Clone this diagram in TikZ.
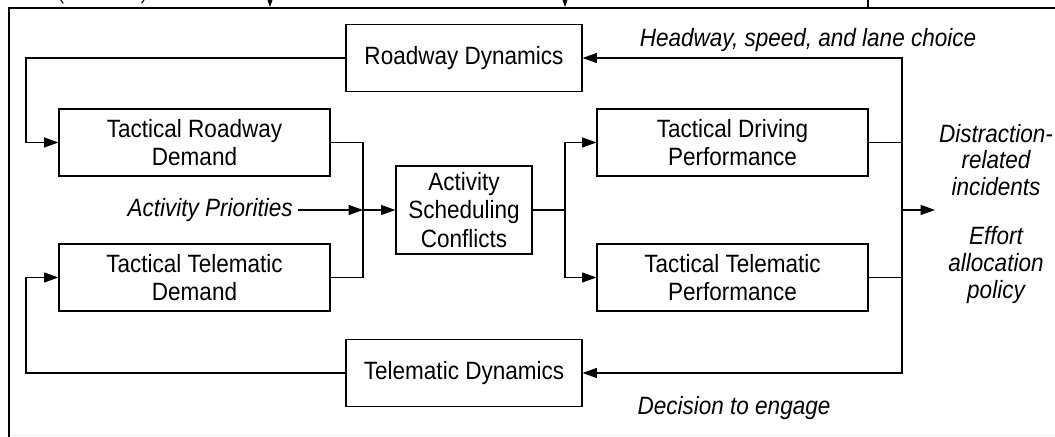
\documentclass[tikz,border=0pt]{standalone}
\usepackage{fontspec}
\setmainfont{Liberation Sans}[FakeStretch=0.9]
\usetikzlibrary{arrows.meta, positioning}

\begin{document}
\begin{tikzpicture} [node distance = 2cm, on grid, font=\fontsize{17.8}{20.5}\selectfont, line width=0.8pt,
	block/.style = {draw, align=center, inner sep=0pt, minimum width=6.775cm, minimum height=1.675cm},
	dyn/.style = {block, minimum width=5.9cm},
	note/.style = {align=center, font=\fontsize{17.8}{19}\selectfont\itshape},
	>={Triangle[length=3.6mm, width=2.5mm]}]
	% Help grid
	%	\draw [help lines] (0,0) grid (27,11);
	\useasboundingbox (0,0) rectangle (26.375,10.925);
	% Outer frame: only top and left side
	\draw [line width=1.5pt] (26.375,10.725) -- (0.225,10.725) -- (0.225,0);
	\draw [black!6, line width=0.6pt] (0.25,0.05) -- (26.375,0.05);
	% Bits coming in from above
	\draw [->] (6.75,11.3) -- (6.75,10.75);
	\draw [->] (14.125,11.3) -- (14.125,10.75);
	\draw (21.7,10.925) -- (21.7,10.725);
	\draw (1.52,10.925) .. controls (1.53,10.87) .. (1.58,10.84);
	\draw (3.6,10.925) .. controls (3.59,10.87) .. (3.54,10.84);
	% Centre node : the other blocks are placed around it
	\node (asc) [block, minimum width=3.4cm, minimum height=2.2cm] at (11.6,5.675) {Activity\\Scheduling\\Conflicts};
	% Demand side
	\node (trd) [block, above left = 1.6875cm and 6.7375cm of asc] {Tactical Roadway\\Demand};
	\node (ttd) [block, below left = 1.6875cm and 6.7375cm of asc] {Tactical Telematic\\Demand};
	% Performance side
	\node (tdp) [block, above right = 1.6875cm and 6.7125cm of asc] {Tactical Driving\\Performance};
	\node (ttp) [block, below right = 1.6875cm and 6.7125cm of asc] {Tactical Telematic\\Performance};
	% Dynamics
	\node (rd) [dyn, above = 3.8cm of asc] {Roadway Dynamics};
	\node (td) [dyn, below = 4.075cm of asc] {Telematic Dynamics};
	% Labels
	\node (prio) [note, anchor=east] at (7.45,5.675) {Activity Priorities};
	\node (headway) [note] at (20.2,9.925) {Headway, speed, and lane choice};
	\node (engage) [note] at (18.35,0.725) {Decision to engage};
	\node (incid) [note] at (24.9,6.925) {Distraction-\\related\\incidents};
	\node (effort) [note] at (24.9,4.3) {Effort\\allocation\\policy};
	% Junction points
	\coordinate (merge) at (9.075,5.675);
	\coordinate (split) at (14.125,5.675);
	\coordinate (collect) at (22.55,5.675);
	\coordinate (out) at (23.375,5.675);
	\coordinate (loop) at (0.65,5.675);
	% Draw Arrows/Connections
	\draw (trd.east) -| (merge);
	\draw (ttd.east) -| (merge);
	\draw [->] (prio.east) -- (merge);
	\draw [->] (merge) -- (asc.west);
	\draw (asc.east) -- (split);
	\draw [->] (split) |- (tdp.west);
	\draw [->] (split) |- (ttp.west);
	\draw (tdp.east) -- (tdp.east -| collect);
	\draw (ttp.east) -- (ttp.east -| collect);
	\draw [->] (collect) -- (out);
	\draw [->] (collect) |- (rd.east);
	\draw [->] (collect) |- (td.east);
	% Feedback loops
	\draw [->] (rd.west) -| (loop |- trd.west) -- (trd.west);
	\draw [->] (td.west) -| (loop |- ttd.west) -- (ttd.west);
\end{tikzpicture}
\end{document}
